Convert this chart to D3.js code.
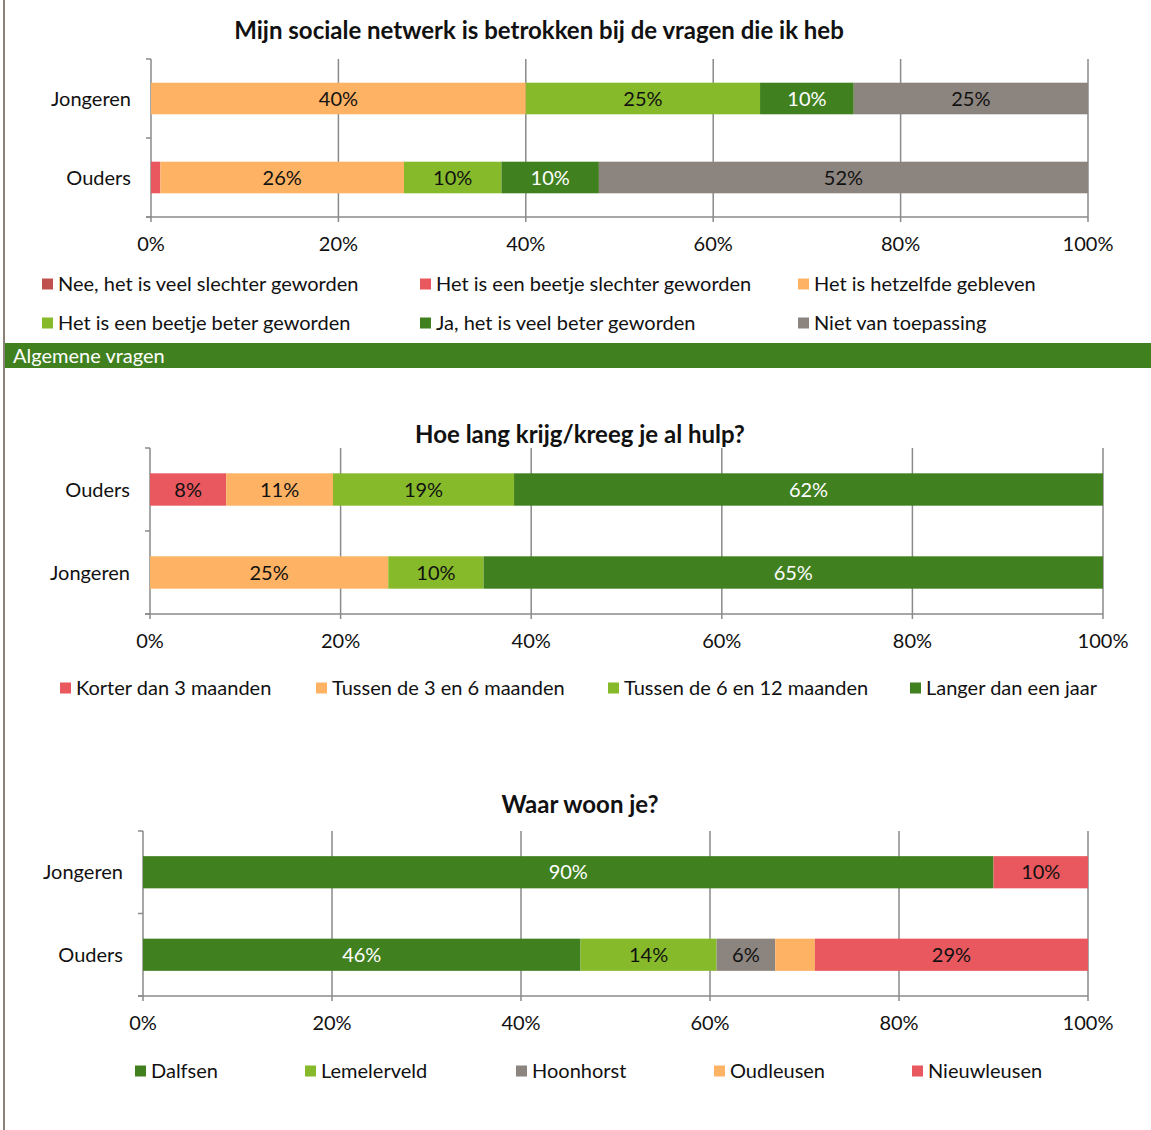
<!DOCTYPE html>
<html>
<head>
<meta charset="utf-8">
<script src="https://cdn.jsdelivr.net/npm/d3@7"></script>
<style>
  html, body { margin: 0; padding: 0; background: #fff; }
  svg { display: block; font-family: Lato, "Open Sans", sans-serif; }
</style>
</head>
<body>
<svg id="page" width="1151" height="1130"></svg>
<script>
// ---- Data: sociaal netwerk ----
const netwerkTitle = "Mijn sociale netwerk is betrokken bij de vragen die ik heb";
const netwerkGroups = ["Jongeren", "Ouders"];
const netwerkSeries = [
  "Nee, het is veel slechter geworden",
  "Het is een beetje slechter geworden",
  "Het is hetzelfde gebleven",
  "Het is een beetje beter geworden",
  "Ja, het is veel beter geworden",
  "Niet van toepassing"
];
const netwerkJongeren = [0, 0, 40, 25, 10, 25];
const netwerkOuders = [0, 1.0, 26.0, 10.4, 10.4, 52.2];
const netwerkColors = ["#C0504D", "#E8585E", "#FDB264", "#86BA2B", "#41801F", "#8C847E"];

// ---- Data: duur hulp ----
const hulpTitle = "Hoe lang krijg/kreeg je al hulp?";
const hulpGroups = ["Ouders", "Jongeren"];
const hulpSeries = [
  "Korter dan 3 maanden",
  "Tussen de 3 en 6 maanden",
  "Tussen de 6 en 12 maanden",
  "Langer dan een jaar"
];
const hulpOuders = [8.0, 11.2, 19.0, 61.8];
const hulpJongeren = [0, 25, 10, 65];
const hulpColors = ["#E8585E", "#FDB264", "#86BA2B", "#41801F"];

// ---- Data: woonplaats ----
const woonTitle = "Waar woon je?";
const woonGroups = ["Jongeren", "Ouders"];
const woonSeries = ["Dalfsen", "Lemelerveld", "Hoonhorst", "Oudleusen", "Nieuwleusen"];
const woonJongeren = [90, 0, 0, 0, 10];
const woonOuders = [46.3, 14.4, 6.2, 4.2, 28.9];
const woonHideLabel = [false, false, false, true, false];
const woonColors = ["#41801F", "#86BA2B", "#8C847E", "#FDB264", "#E8585E"];

const xTicks = [0, 20, 40, 60, 80, 100];
const sectionHeader = "Algemene vragen";

const svg = d3.select("#page");
const gridColor = "#8a8a8a";
const fs = 20;

// page frame line on the left
svg.append("line")
  .attr("x1", 4).attr("x2", 4).attr("y1", 0).attr("y2", 1130)
  .attr("stroke", "#8B8178").attr("stroke-width", 2);

// section header band
svg.append("rect").attr("x", 5).attr("y", 343).attr("width", 1146).attr("height", 25).attr("fill", "#41801F");
svg.append("text").attr("x", 13).attr("y", 356).attr("dy", "0.35em")
  .attr("fill", "#fff").attr("font-size", fs).text(sectionHeader);

function textColorFor(fill) {
  return (fill === "#41801F") ? "#fff" : "#111";
}

function stackedBar(cfg) {
  const g = svg.append("g");
  const x = d3.scaleLinear().domain([0, 100]).range([cfg.x0, cfg.x1]);
  const y = d3.scaleBand().domain(cfg.groups).range([cfg.yTop, cfg.yBottom])
    .paddingInner(cfg.pad).paddingOuter(cfg.pad / 2);

  // title
  g.append("text").attr("x", cfg.titleX).attr("y", cfg.titleY).attr("dy", "0.35em")
    .attr("text-anchor", "middle").attr("font-weight", "bold").attr("font-size", 24)
    .attr("fill", "#111").text(cfg.title);

  // vertical gridlines (extend a little below the axis as outside ticks)
  g.selectAll("line.grid").data(xTicks).join("line")
    .attr("x1", d => x(d)).attr("x2", d => x(d))
    .attr("y1", cfg.yTop).attr("y2", cfg.yBottom + 5)
    .attr("stroke", gridColor).attr("stroke-width", 1.5);

  // value axis line
  g.append("line").attr("x1", cfg.x0 - 5).attr("x2", cfg.x1)
    .attr("y1", cfg.yBottom).attr("y2", cfg.yBottom)
    .attr("stroke", gridColor).attr("stroke-width", 1.5);

  // category axis ticks at band boundaries
  const bounds = [cfg.yTop, (cfg.yTop + cfg.yBottom) / 2, cfg.yBottom];
  g.selectAll("line.ctick").data(bounds).join("line")
    .attr("x1", cfg.x0 - 5).attr("x2", cfg.x0)
    .attr("y1", d => d).attr("y2", d => d)
    .attr("stroke", gridColor).attr("stroke-width", 1.5);

  // x tick labels
  g.selectAll("text.xt").data(xTicks).join("text")
    .attr("x", d => x(d)).attr("y", cfg.yBottom + 27).attr("dy", "0.35em")
    .attr("text-anchor", "middle").attr("font-size", fs).attr("fill", "#111")
    .text(d => d + "%");

  // category labels
  g.selectAll("text.cat").data(cfg.groups).join("text")
    .attr("x", cfg.x0 - 20).attr("y", d => y(d) + y.bandwidth() / 2).attr("dy", "0.35em")
    .attr("text-anchor", "end").attr("font-size", fs).attr("fill", "#111")
    .text(d => d);

  // stacked segments
  cfg.groups.forEach((grp, gi) => {
    const vals = cfg.values[gi];
    let acc = 0;
    vals.forEach((v, si) => {
      const start = acc;
      acc += v;
      if (v <= 0) return;
      g.append("rect")
        .attr("x", x(start)).attr("y", y(grp))
        .attr("width", x(acc) - x(start)).attr("height", y.bandwidth())
        .attr("fill", cfg.colors[si]);
      const hide = cfg.hide && cfg.hide[gi] && cfg.hide[gi][si];
      if (v >= 5 && !hide) {
        g.append("text")
          .attr("x", (x(start) + x(acc)) / 2).attr("y", y(grp) + y.bandwidth() / 2)
          .attr("dy", "0.35em").attr("text-anchor", "middle").attr("font-size", fs)
          .attr("fill", textColorFor(cfg.colors[si]))
          .text(d3.format(".0f")(v) + "%");
      }
    });
  });

  // legend
  cfg.legend.forEach((row, ri) => {
    row.forEach((item) => {
      const si = cfg.series.indexOf(item.name);
      g.append("rect").attr("x", item.x).attr("y", cfg.legendY[ri] - 5.5)
        .attr("width", 11).attr("height", 11).attr("fill", cfg.colors[si]);
      g.append("text").attr("x", item.x + 16).attr("y", cfg.legendY[ri]).attr("dy", "0.35em")
        .attr("font-size", fs).attr("fill", "#111").text(item.name);
    });
  });
}

stackedBar({
  title: netwerkTitle, titleX: 539, titleY: 31,
  groups: netwerkGroups, values: [netwerkJongeren, netwerkOuders],
  series: netwerkSeries, colors: netwerkColors,
  x0: 151, x1: 1088, yTop: 59, yBottom: 217, pad: 0.6,
  legendY: [284, 323],
  legend: [
    [{ name: netwerkSeries[0], x: 42 }, { name: netwerkSeries[1], x: 420 }, { name: netwerkSeries[2], x: 798 }],
    [{ name: netwerkSeries[3], x: 42 }, { name: netwerkSeries[4], x: 420 }, { name: netwerkSeries[5], x: 798 }]
  ]
});

stackedBar({
  title: hulpTitle, titleX: 580, titleY: 435,
  groups: hulpGroups, values: [hulpOuders, hulpJongeren],
  series: hulpSeries, colors: hulpColors,
  x0: 150, x1: 1103, yTop: 448, yBottom: 614, pad: 0.61,
  legendY: [688],
  legend: [[
    { name: hulpSeries[0], x: 60 }, { name: hulpSeries[1], x: 316 },
    { name: hulpSeries[2], x: 608 }, { name: hulpSeries[3], x: 910 }
  ]]
});

stackedBar({
  title: woonTitle, titleX: 580, titleY: 805,
  groups: woonGroups, values: [woonJongeren, woonOuders],
  hide: [[false, false, false, false, false], woonHideLabel],
  series: woonSeries, colors: woonColors,
  x0: 143, x1: 1088, yTop: 831, yBottom: 996, pad: 0.61,
  legendY: [1071],
  legend: [[
    { name: woonSeries[0], x: 135 }, { name: woonSeries[1], x: 305 },
    { name: woonSeries[2], x: 516 }, { name: woonSeries[3], x: 714 }, { name: woonSeries[4], x: 912 }
  ]]
});
</script>
</body>
</html>
